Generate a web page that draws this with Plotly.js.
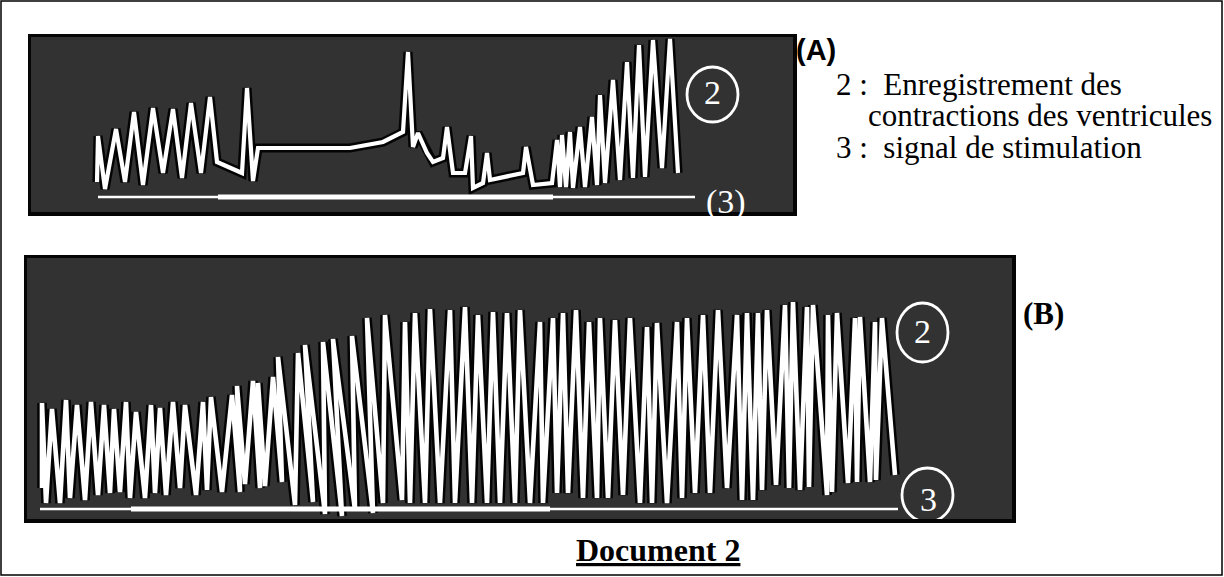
<!DOCTYPE html>
<html><head><meta charset="utf-8">
<script src="https://cdn.plot.ly/plotly-3.0.1.min.js"></script>
<style>html,body{margin:0;padding:0;background:#fff}#chart{width:1224px;height:577px}</style>
</head><body><div id="chart"></div>
<script>
// (A) recording of ventricular contractions: time (a.u.), amplitude (a.u.)
const recA_t = [66,67,74,85,94,103,112,122,132,142,151,160,170,179,186,211,216,222,227,319,352,372,377,382,387,396,402,412,416,422,434,440,442,452,456,459,492,495,502,521,526,529,531,535,539,542,549,554,561,566,569,574,582,589,596,602,608,614,622,631,639,647];
const recA_v = [30,76,23,83,30,100,27,104,39,103,34,109,39,115,50,39,124,31,64,64,70,80,160,65,79,59,50,54,85,39,39,76,24,29,59,32,39,65,27,29,72,25,77,25,80,24,85,25,95,27,117,29,132,32,150,34,167,35,172,44,173,39];
// (A) stimulation signal
const stimA_base_t = [67,664];
const stimA_base_v = [15,15];
const stimA_on_t = [187,522];
const stimA_on_v = [15,15];

// (B) recording of ventricular contractions
const recB_t = [15,15,19,25,33,39,43,50,58,64,71,77,83,87,93,99,103,109,118,124,128,133,139,146,153,158,169,176,180,184,195,205,213,210,218,226,233,231,238,246,255,251,268,271,286,278,298,296,315,306,328,325,346,340,356,358,375,378,383,388,398,403,413,423,428,438,445,451,460,466,473,480,488,493,503,513,516,526,530,536,541,549,556,562,570,573,581,588,596,603,613,620,625,630,640,650,655,660,668,676,683,691,700,710,715,720,726,731,735,740,749,758,762,766,773,780,782,786,800,801,805,810,821,828,830,833,843,848,849,855,868];
const recB_v = [31,116,16,110,16,119,21,114,19,117,24,114,26,110,27,117,21,107,21,114,26,111,24,117,31,114,24,117,29,122,27,124,27,133,35,138,31,136,33,142,37,162,14,166,17,174,5,177,3,180,9,183,6,201,16,204,19,197,16,206,16,210,16,209,16,212,16,204,16,207,16,206,16,209,16,197,16,201,26,206,26,209,21,197,21,201,21,199,24,201,16,192,16,196,16,197,21,201,26,204,26,209,31,204,19,206,19,206,29,209,34,214,31,217,29,212,32,214,24,204,27,206,36,201,37,202,37,197,39,201,44];
// (B) stimulation signal
const stimB_base_t = [13,871];
const stimB_base_v = [10,10];
const stimB_on_t = [104,523];
const stimB_on_v = [10,10];

const W = 1224, H = 577;
const px = v => v / W;
const py = v => 1 - v / H;

function rec(t, v, xa, ya, w) {
  return [
    {x: t, y: v, xaxis: xa, yaxis: ya, mode: 'lines', line: {color: 'rgba(0,0,0,0.92)', width: w + 5}, hoverinfo: 'skip'},
    {x: t, y: v, xaxis: xa, yaxis: ya, mode: 'lines', line: {color: '#ffffff', width: w}, hoverinfo: 'skip'}
  ];
}
function stim(t, v, xa, ya, w) {
  return {x: t, y: v, xaxis: xa, yaxis: ya, mode: 'lines', line: {color: '#ffffff', width: w}, hoverinfo: 'skip'};
}

const data = [].concat(
  rec(recA_t, recA_v, 'x', 'y', 4.2),
  [stim(stimA_base_t, stimA_base_v, 'x', 'y', 2.6), stim(stimA_on_t, stimA_on_v, 'x', 'y', 5)],
  rec(recB_t, recB_v, 'x2', 'y2', 4.6),
  [stim(stimB_base_t, stimB_base_v, 'x2', 'y2', 2.6), stim(stimB_on_t, stimB_on_v, 'x2', 'y2', 5)]
);

const ax = {showgrid: false, zeroline: false, showticklabels: false, ticks: '', showline: true, mirror: true, linecolor: '#050505', linewidth: 3.5, fixedrange: true};

const serif = 'Liberation Serif, Times New Roman, serif';
const layout = {
  width: W, height: H,
  margin: {l: 0, r: 0, t: 0, b: 0},
  paper_bgcolor: '#ffffff',
  plot_bgcolor: '#323232',
  showlegend: false,
  xaxis: Object.assign({}, ax, {domain: [px(31), px(793)], range: [0, 762], anchor: 'y'}),
  yaxis: Object.assign({}, ax, {domain: [py(212), py(37)], range: [0, 175], anchor: 'x'}),
  xaxis2: Object.assign({}, ax, {domain: [px(27), px(1012)], range: [0, 985], anchor: 'y2'}),
  yaxis2: Object.assign({}, ax, {domain: [py(519), py(258)], range: [0, 261], anchor: 'x2'}),
  shapes: [
    {type: 'rect', xref: 'paper', yref: 'paper', x0: px(1), x1: px(1222), y0: py(575), y1: py(1), line: {color: '#000', width: 1.5}},
    {type: 'circle', xref: 'x', yref: 'y', x0: 656, x1: 707, y0: 90, y1: 145, line: {color: '#fff', width: 2.8}},
    {type: 'circle', xref: 'x2', yref: 'y2', x0: 870, x1: 921, y0: 157, y1: 216, line: {color: '#fff', width: 2.8}},
    {type: 'circle', xref: 'x2', yref: 'y2', x0: 875, x1: 926, y0: -3, y1: 51, line: {color: '#fff', width: 2.8}}
  ],
  annotations: [
    {text: '2', xref: 'paper', yref: 'paper', x: px(712), y: py(93), xanchor: 'center', yanchor: 'middle', showarrow: false, font: {family: serif, size: 34, color: '#fff'}},
    {text: '(3)', xref: 'paper', yref: 'paper', x: px(726), y: py(202), xanchor: 'center', yanchor: 'middle', showarrow: false, font: {family: serif, size: 34, color: '#fff'}},
    {text: '2', xref: 'paper', yref: 'paper', x: px(922), y: py(331), xanchor: 'center', yanchor: 'middle', showarrow: false, font: {family: serif, size: 34, color: '#fff'}},
    {text: '3', xref: 'paper', yref: 'paper', x: px(928), y: py(499), xanchor: 'center', yanchor: 'middle', showarrow: false, font: {family: serif, size: 34, color: '#fff'}},
    {text: '<b>(A)</b>', xref: 'paper', yref: 'paper', x: px(794), y: py(50), xanchor: 'left', yanchor: 'middle', showarrow: false, font: {family: 'Liberation Sans, Arial, sans-serif', size: 29, color: '#000'}},
    {text: '2 :  Enregistrement des', xref: 'paper', yref: 'paper', x: px(834), y: py(85), xanchor: 'left', yanchor: 'middle', showarrow: false, font: {family: serif, size: 31, color: '#000'}},
    {text: 'contractions des ventricules', xref: 'paper', yref: 'paper', x: px(866), y: py(116), xanchor: 'left', yanchor: 'middle', showarrow: false, font: {family: serif, size: 31, color: '#000'}},
    {text: '3 :  signal de stimulation', xref: 'paper', yref: 'paper', x: px(834), y: py(147), xanchor: 'left', yanchor: 'middle', showarrow: false, font: {family: serif, size: 31, color: '#000'}},
    {text: '<b>(B)</b>', xref: 'paper', yref: 'paper', x: px(1021), y: py(313), xanchor: 'left', yanchor: 'middle', showarrow: false, font: {family: serif, size: 31, color: '#000'}},
    {text: '<b>Document 2</b>', xref: 'paper', yref: 'paper', x: px(658), y: py(550), xanchor: 'center', yanchor: 'middle', showarrow: false, font: {family: serif, size: 32, color: '#000', lineposition: 'under'}}
  ]
};

Plotly.newPlot('chart', data, layout, {staticPlot: true, displayModeBar: false});
</script>
</body></html>
